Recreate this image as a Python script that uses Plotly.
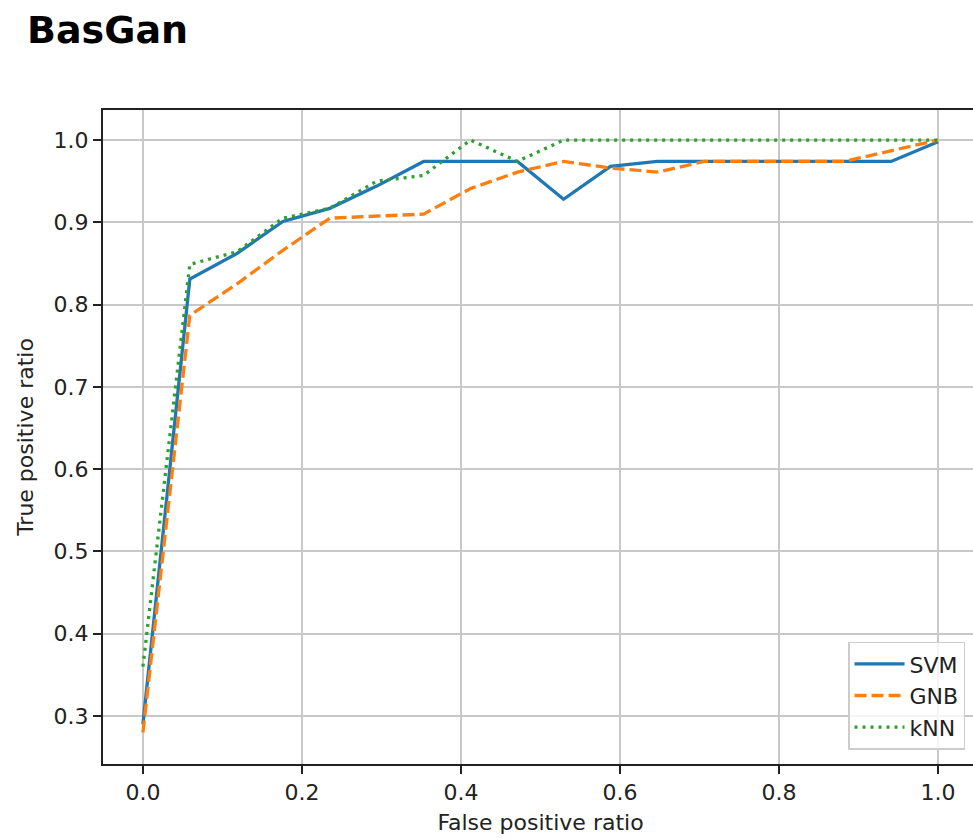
import plotly.graph_objects as go

svm_fpr = [0.0, 0.059, 0.118, 0.176, 0.235, 0.294, 0.353, 0.412, 0.471, 0.529, 0.588, 0.647, 0.941, 1.0]
svm_tpr = [0.29, 0.831, 0.862, 0.901, 0.917, 0.944, 0.974, 0.974, 0.974, 0.928, 0.968, 0.974, 0.974, 0.998]

gnb_fpr = [0.0, 0.059, 0.118, 0.176, 0.235, 0.294, 0.353, 0.412, 0.471, 0.529, 0.588, 0.647, 0.706, 0.882, 1.0]
gnb_tpr = [0.28, 0.787, 0.825, 0.866, 0.905, 0.908, 0.910, 0.941, 0.961, 0.974, 0.966, 0.961, 0.974, 0.974, 1.0]

knn_fpr = [0.0, 0.059, 0.118, 0.176, 0.235, 0.294, 0.353, 0.412, 0.471, 0.529, 1.0]
knn_tpr = [0.36, 0.849, 0.864, 0.905, 0.917, 0.950, 0.957, 1.0, 0.974, 1.0, 1.0]

x_ticks = [0.0, 0.2, 0.4, 0.6, 0.8, 1.0]
x_tick_labels = ["0.0", "0.2", "0.4", "0.6", "0.8", "1.0"]
y_ticks = [0.3, 0.4, 0.5, 0.6, 0.7, 0.8, 0.9, 1.0]
y_tick_labels = ["0.3", "0.4", "0.5", "0.6", "0.7", "0.8", "0.9", "1.0"]

FONT = "DejaVu Sans"

fig = go.Figure()
fig.add_trace(go.Scatter(x=svm_fpr, y=svm_tpr, mode="lines", name="SVM",
                         line=dict(color="#1f77b4", width=3.3)))
fig.add_trace(go.Scatter(x=gnb_fpr, y=gnb_tpr, mode="lines", name="GNB",
                         line=dict(color="#ff7f0e", width=3.3, dash="12px,5px")))
fig.add_trace(go.Scatter(x=knn_fpr, y=knn_tpr, mode="lines", name="kNN",
                         line=dict(color="#2ca02c", width=3.3, dash="3px,5px")))

fig.update_layout(
    width=980, height=839,
    margin=dict(l=103, r=0, t=110, b=75),
    paper_bgcolor="white", plot_bgcolor="white",
    font=dict(family=FONT, size=22, color="#222222"),
    title=dict(text="<b>BasGan</b>", x=27/980, xanchor="left", xref="container",
               y=1 - 30/839, yanchor="middle", yref="container",
               font=dict(family=FONT, size=38, color="black")),
    legend=dict(x=(967 - 103) / 877, xanchor="right", y=0.022, yanchor="bottom",
                bgcolor="rgba(255,255,255,0.8)", bordercolor="#cccccc", borderwidth=1.5,
                font=dict(family=FONT, size=22, color="#222222"),
                itemwidth=50, tracegroupgap=0),
    showlegend=True,
)
fig.update_xaxes(
    range=[-0.0502, 1.0502], tickvals=x_ticks, ticktext=x_tick_labels,
    showgrid=True, gridcolor="#c8c8c8", gridwidth=2,
    showline=True, linecolor="#222222", linewidth=2, mirror=True,
    ticks="outside", ticklen=8, tickwidth=2, tickcolor="#222222",
    zeroline=False,
    title=dict(text="False positive ratio", font=dict(family=FONT, size=22), standoff=10),
)
fig.update_yaxes(
    range=[0.2417, 1.0365], tickvals=y_ticks, ticktext=y_tick_labels,
    showgrid=True, gridcolor="#c8c8c8", gridwidth=2,
    showline=True, linecolor="#222222", linewidth=2, mirror=True,
    ticks="outside", ticklen=8, tickwidth=2, tickcolor="#222222",
    zeroline=False,
    title=dict(text="True positive ratio", font=dict(family=FONT, size=22), standoff=14),
)

fig.write_html("out.html", config={"displayModeBar": False},
               post_script="document.body.style.margin='0';document.body.style.overflow='hidden';")
